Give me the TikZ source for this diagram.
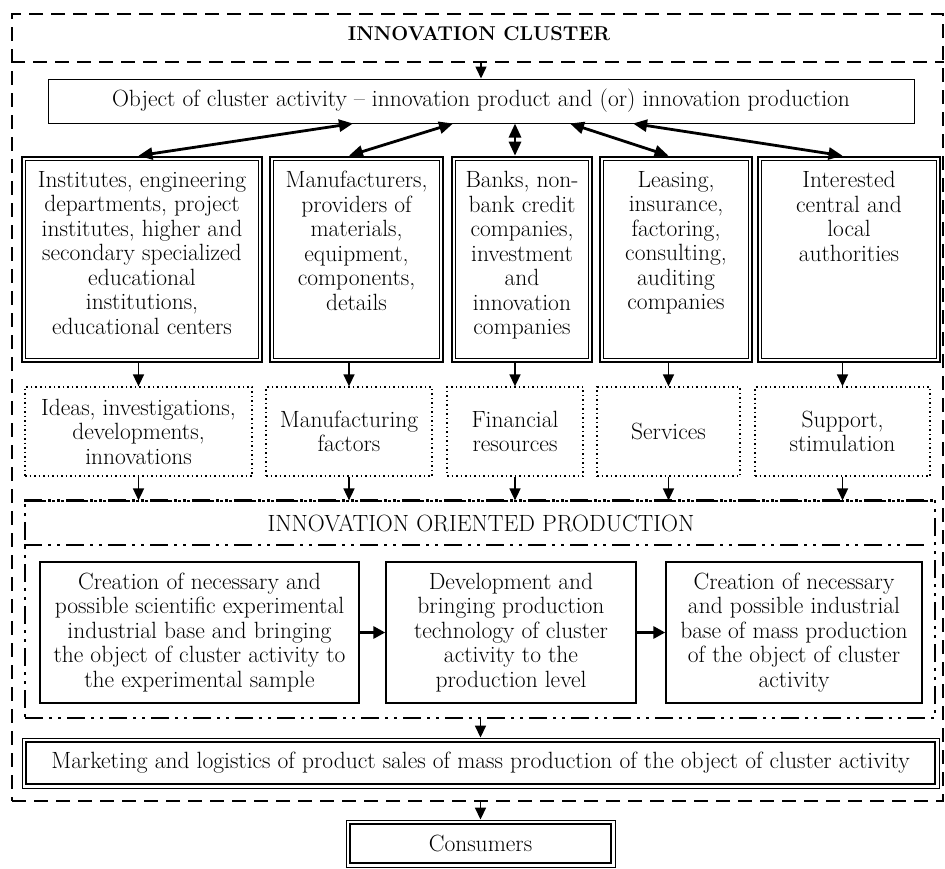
\documentclass[tikz,border=0pt]{standalone}
\usepackage{xcolor}
\usepackage{tikz}
\usetikzlibrary{arrows.meta,positioning,calc}

\begin{document}
\begin{tikzpicture}[x=1pt, y=-1pt, every node/.style={font=\fontsize{23.5}{24.5}\selectfont}, clusterframe/.style={draw, line width=2pt, dash pattern=on 14pt off 8pt, minimum width=931pt, minimum height=787pt}, objbox/.style={draw, line width=1pt, minimum width=866pt, minimum height=44pt}, orgbox/.style={draw, line width=2.6pt, minimum height=205pt}, boxtext/.style={anchor=north, align=center, yshift=-12pt}, resbox/.style={draw, line width=1.3pt, dash pattern=on 1.5pt off 3pt, align=center, minimum height=89pt}, prodframe/.style={draw, line width=1.2pt, dash pattern=on 18pt off 6pt on 3pt off 6pt on 3pt off 6pt, minimum width=910pt, minimum height=217pt}, prodline/.style={line width=2.6pt, dash pattern=on 18pt off 6pt on 3pt off 6pt on 3pt off 6pt}, stepbox/.style={draw, line width=1.4pt, align=center, minimum height=141pt}, salebox/.style={draw, line width=0.9pt, align=center}, arr/.style={-{Triangle[length=12pt,width=11pt]}, line width=1.6pt}, biarr/.style={{Triangle[length=14pt,width=12pt]}-{Triangle[length=14pt,width=12pt]}, line width=2.8pt}, steparr/.style={-{Triangle[length=12pt,width=12pt]}, line width=3pt}]
\useasboundingbox (0,0) rectangle (945,868);
\node[clusterframe] (cluster) at (477.5,407.5) {};
\node[font=\fontsize{20}{24}\selectfont\bfseries] (title) at (479,34) {INNOVATION CLUSTER};
\coordinate (band) at (12,62);
\draw[line width=2pt, dash pattern=on 14pt off 8pt] (cluster.west |- band) -- (cluster.east |- band);
\node[objbox] (obj) at (481,101) {Object of cluster activity -- innovation product and (or) innovation production};
\node[orgbox, minimum width=240pt, label={[boxtext, name=top1t]north:{Institutes, engineering\\departments, project\\institutes, higher and\\secondary specialized\\educational\\institutions,\\educational centers}}] (top1) at (142,259.5) {};
\node[orgbox, minimum width=173pt, label={[boxtext, name=top2t]north:{Manufacturers,\\providers of\\materials,\\equipment,\\components,\\details}}] (top2) at (356.5,259.5) {};
\node[orgbox, minimum width=140pt, label={[boxtext, name=top3t]north:{Banks, non-\\bank credit\\companies,\\investment\\and\\innovation\\companies}}] (top3) at (522,259.5) {};
\node[orgbox, minimum width=152pt, label={[boxtext, name=top4t]north:{Leasing,\\insurance,\\factoring,\\consulting,\\auditing\\companies}}] (top4) at (676,259.5) {};
\node[orgbox, minimum width=182pt, label={[boxtext, name=top5t]north:{Interested\\central and\\local\\authorities}}] (top5) at (849,259.5) {};
\foreach \n in {top1,top2,top3,top4,top5} \draw[line width=0.8pt] ([shift={(4.5pt,-4.5pt)}]\n.north west) rectangle ([shift={(-4.5pt,4.5pt)}]\n.south east);
\node[resbox, minimum width=227pt] (res1) at (138.5,431.5) {Ideas, investigations,\\developments,\\innovations};
\node[resbox, minimum width=166pt] (res2) at (349,431.5) {Manufacturing\\factors};
\node[resbox, minimum width=136pt] (res3) at (515,431.5) {Financial\\resources};
\node[resbox, minimum width=143pt] (res4) at (668.5,431.5) {Services};
\node[resbox, minimum width=175pt] (res5) at (842.5,431.5) {Support,\\stimulation};
\node[prodframe] (prod) at (480,609.5) {};
\draw[prodline] (prod.north west) -- (prod.north east);
\node (prodtitle) at (481,523) {INNOVATION ORIENTED PRODUCTION};
\coordinate (prodband) at (25,545);
\draw[prodline, line width=2.2pt] (prod.west |- prodband) -- ([xshift=-10pt]prod.east |- prodband);
\node[stepbox, minimum width=319pt] (stepA) at (199.5,632.5) {Creation of necessary and\\possible scientific experimental\\industrial base and bringing\\the object of cluster activity to\\the experimental sample};
\node[stepbox, minimum width=250pt] (stepB) at (511,632.5) {Development and\\bringing production\\technology of cluster\\activity to the\\production level};
\node[stepbox, minimum width=256pt] (stepC) at (794,632.5) {Creation of necessary\\and possible industrial\\base of mass production\\of the object of cluster\\activity};
\node[salebox, minimum width=917pt, minimum height=50pt] (market) at (480.5,763) {Marketing and logistics of product sales of mass production of the object of cluster activity};
\node[salebox, minimum width=269pt, minimum height=47pt] (cons) at (480.5,843.5) {Consumers};
\foreach \n in {market,cons} \draw[line width=2pt] ([shift={(4pt,-4pt)}]\n.north west) rectangle ([shift={(-4pt,4pt)}]\n.south east);
\draw[arr] (band -| obj.north) -- (obj.north);
\draw[biarr] ([xshift=-128pt]obj.south) -- (top1.north -| res1); \draw[biarr] ([xshift=-28pt]obj.south) -- (top2.north -| res2); \draw[biarr] (obj.south -| res3) -- (top3.north -| res3); \draw[biarr] ([xshift=89pt]obj.south) -- (top4.north -| res4); \draw[biarr] ([xshift=152pt]obj.south) -- (top5.north -| res5);
\foreach \n in {1,...,5} \draw[arr] (top\n.south -| res\n) -- (res\n.north);
\foreach \n in {1,...,5} \draw[arr] (res\n.south) -- (prod.north -| res\n);
\draw[steparr] (stepA) -- (stepB); \draw[steparr] (stepB) -- (stepC);
\draw[arr] (prod.south -| market) -- (market.north); \draw[arr] (cluster.south -| cons) -- (cons.north);
\end{tikzpicture}
\end{document}
